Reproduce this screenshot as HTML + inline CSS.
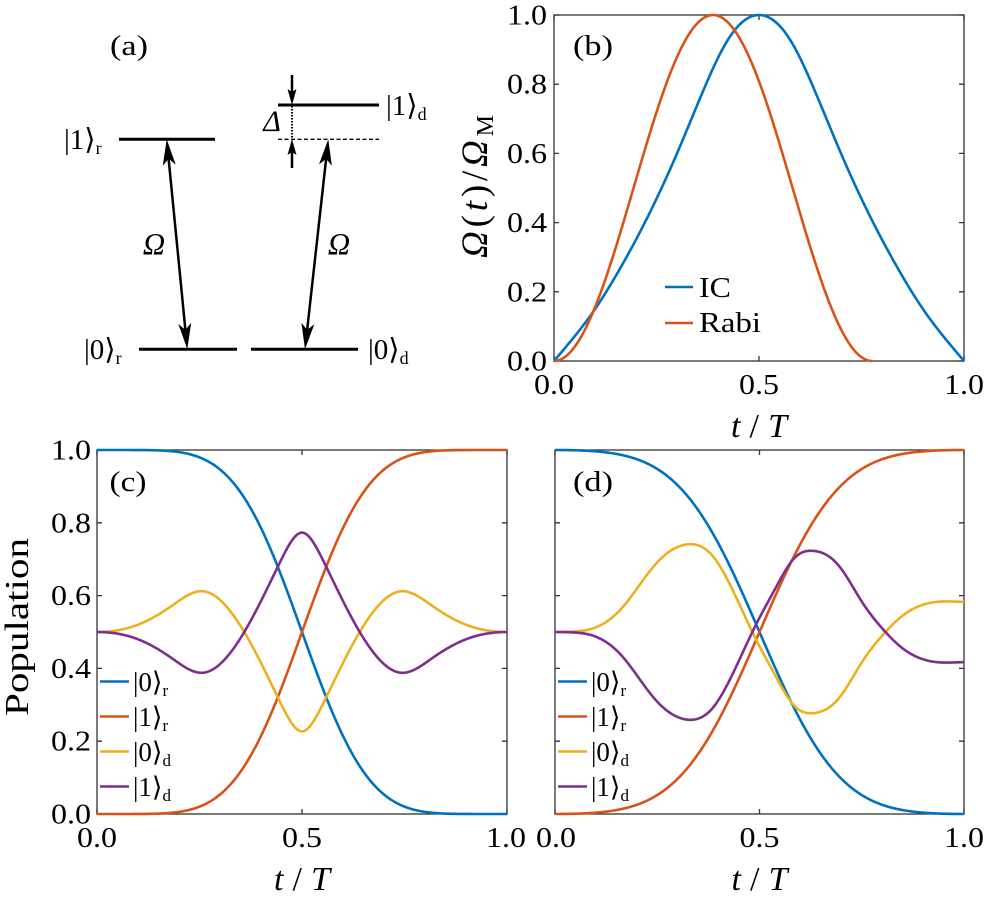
<!DOCTYPE html>
<html><head><meta charset="utf-8">
<style>
html,body{margin:0;padding:0;background:#fff;}
svg{display:block;}
text{font-family:"Liberation Serif","DejaVu Serif","DejaVu Sans",serif;fill:#000;}
.tk{font-size:29px;}
.it{font-style:italic;}
</style></head>
<body>
<svg id="fig" width="985" height="902" viewBox="0 0 985 902" xmlns="http://www.w3.org/2000/svg">
<rect x="0" y="0" width="985" height="902" fill="#fff"/>

<!-- ===== Panel (a) ===== -->
<text x="129" y="55" font-size="29" text-anchor="middle" textLength="38" lengthAdjust="spacingAndGlyphs">(a)</text>
<g stroke="#000" stroke-width="3" fill="none">
  <line x1="119" y1="139.3" x2="215" y2="139.3"/>
  <line x1="139" y1="349.3" x2="237" y2="349.3"/>
  <line x1="251" y1="349.3" x2="358" y2="349.3"/>
  <line x1="278" y1="105" x2="379" y2="105"/>
</g>
<line x1="278" y1="139.3" x2="379" y2="139.3" stroke="#000" stroke-width="1.3" stroke-dasharray="4 2.5"/>
<line x1="292" y1="106" x2="292" y2="138" stroke="#000" stroke-width="2" stroke-dasharray="1.5 1.5"/>
<g stroke="#000" stroke-width="2.5">
  <line x1="168.6" y1="158.7" x2="185.4" y2="329.9"/>
  <line x1="326.15" y1="158.7" x2="307.15" y2="329.9"/>
  <line x1="292" y1="75" x2="292" y2="95"/>
  <line x1="292" y1="168" x2="292" y2="149"/>
</g>
<g fill="#000">
  <polygon points="166.7,139.3 175.7,164.6 168.6,158.7 162.8,165.8"/>
  <polygon points="187.3,349.3 191.2,322.8 185.4,329.9 178.3,324.0"/>
  <polygon points="328.3,139.3 331.9,165.9 326.15,158.7 319.0,164.4"/>
  <polygon points="305,349.3 314.3,324.2 307.15,329.9 301.4,322.7"/>
  <polygon points="292,105 296.5,89 292,92 287.5,89"/>
  <polygon points="292,139 296.5,155 292,152 287.5,155"/>
</g>
<text x="64" y="149" font-size="29">|1⟩<tspan font-size="18" dy="5">r</tspan></text>
<text x="84" y="359" font-size="29">|0⟩<tspan font-size="18" dy="5">r</tspan></text>
<text x="368" y="359" font-size="29">|0⟩<tspan font-size="18" dy="5">d</tspan></text>
<text x="386" y="115" font-size="29">|1⟩<tspan font-size="18" dy="5">d</tspan></text>
<text x="154" y="254" font-size="31" class="it" text-anchor="middle">Ω</text>
<text x="339" y="254" font-size="31" class="it" text-anchor="middle">Ω</text>
<text x="272" y="131" font-size="30" class="it" text-anchor="middle">Δ</text>

<!-- ===== Panel (b) ===== -->
<rect x="554" y="15" width="410" height="346" fill="none" stroke="#333" stroke-width="1.3"/>
<path d="M554,361h5M964,361h-5M554,291.8h5M964,291.8h-5M554,222.6h5M964,222.6h-5M554,153.4h5M964,153.4h-5M554,84.2h5M964,84.2h-5M554,15h5M964,15h-5M554,361v-5M554,15v5M759,361v-5M759,15v5M964,361v-5M964,15v5" stroke="#333" stroke-width="1.3" fill="none"/>
<g class="tk" text-anchor="end">
<text x="547" y="370.5" textLength="40" lengthAdjust="spacingAndGlyphs">0.0</text>
<text x="547" y="301.3" textLength="40" lengthAdjust="spacingAndGlyphs">0.2</text>
<text x="547" y="232.1" textLength="40" lengthAdjust="spacingAndGlyphs">0.4</text>
<text x="547" y="162.9" textLength="40" lengthAdjust="spacingAndGlyphs">0.6</text>
<text x="547" y="93.7" textLength="40" lengthAdjust="spacingAndGlyphs">0.8</text>
<text x="547" y="24.5" textLength="40" lengthAdjust="spacingAndGlyphs">1.0</text>
</g>
<g class="tk" text-anchor="middle">
<text x="554" y="394" textLength="40" lengthAdjust="spacingAndGlyphs">0.0</text>
<text x="759" y="394" textLength="40" lengthAdjust="spacingAndGlyphs">0.5</text>
<text x="964" y="394" textLength="40" lengthAdjust="spacingAndGlyphs">1.0</text>
</g>
<text x="759" y="437" font-size="34" text-anchor="middle" textLength="56" lengthAdjust="spacing"><tspan class="it">t</tspan>/<tspan class="it">T</tspan></text>
<text transform="translate(487,186.5) rotate(-90)" font-size="37" text-anchor="middle" textLength="143" lengthAdjust="spacing"><tspan class="it">Ω</tspan>(<tspan class="it">t</tspan>)/<tspan class="it">Ω</tspan><tspan font-size="24" dy="6">M</tspan></text>
<text x="593" y="55" font-size="29" text-anchor="middle" textLength="40" lengthAdjust="spacingAndGlyphs">(b)</text>
<line x1="665" y1="287" x2="693" y2="287" stroke="#0072BD" stroke-width="2.6"/>
<line x1="665" y1="323" x2="693" y2="323" stroke="#D95319" stroke-width="2.6"/>
<text x="699" y="297" font-size="28" textLength="32" lengthAdjust="spacingAndGlyphs">IC</text>
<text x="699" y="332" font-size="28" textLength="62" lengthAdjust="spacingAndGlyphs">Rabi</text>

<!-- ===== Panel (c) ===== -->
<rect x="97" y="450" width="410" height="364" fill="none" stroke="#333" stroke-width="1.3"/>
<path d="M97,814h5M507,814h-5M97,741.2h5M507,741.2h-5M97,668.4h5M507,668.4h-5M97,595.6h5M507,595.6h-5M97,522.8h5M507,522.8h-5M97,450h5M507,450h-5M97,814v-5M97,450v5M302,814v-5M302,450v5M507,814v-5M507,450v5" stroke="#333" stroke-width="1.3" fill="none"/>
<g class="tk" text-anchor="end">
<text x="91" y="823.5" textLength="40" lengthAdjust="spacingAndGlyphs">0.0</text>
<text x="91" y="750.7" textLength="40" lengthAdjust="spacingAndGlyphs">0.2</text>
<text x="91" y="677.9" textLength="40" lengthAdjust="spacingAndGlyphs">0.4</text>
<text x="91" y="605.1" textLength="40" lengthAdjust="spacingAndGlyphs">0.6</text>
<text x="91" y="532.3" textLength="40" lengthAdjust="spacingAndGlyphs">0.8</text>
<text x="91" y="459.5" textLength="40" lengthAdjust="spacingAndGlyphs">1.0</text>
</g>
<g class="tk" text-anchor="middle">
<text x="97" y="847" textLength="40" lengthAdjust="spacingAndGlyphs">0.0</text>
<text x="302" y="847" textLength="40" lengthAdjust="spacingAndGlyphs">0.5</text>
<text x="506" y="847" textLength="40" lengthAdjust="spacingAndGlyphs">1.0</text>
</g>
<text x="302" y="890" font-size="34" text-anchor="middle" textLength="56" lengthAdjust="spacing"><tspan class="it">t</tspan>/<tspan class="it">T</tspan></text>
<text transform="translate(28,627) rotate(-90)" font-size="34" text-anchor="middle" textLength="178" lengthAdjust="spacingAndGlyphs">Population</text>
<text x="128" y="491" font-size="29" text-anchor="middle" textLength="37" lengthAdjust="spacingAndGlyphs">(c)</text>

<!-- ===== Panel (d) ===== -->
<rect x="555" y="450" width="409" height="364" fill="none" stroke="#333" stroke-width="1.3"/>
<path d="M555,814h5M964,814h-5M555,741.2h5M964,741.2h-5M555,668.4h5M964,668.4h-5M555,595.6h5M964,595.6h-5M555,522.8h5M964,522.8h-5M555,450h5M964,450h-5M555,814v-5M555,450v5M759.5,814v-5M759.5,450v5M964,814v-5M964,450v5" stroke="#333" stroke-width="1.3" fill="none"/>
<g class="tk" text-anchor="middle">
<text x="556" y="847" textLength="40" lengthAdjust="spacingAndGlyphs">0.0</text>
<text x="759.5" y="847" textLength="40" lengthAdjust="spacingAndGlyphs">0.5</text>
<text x="964" y="847" textLength="40" lengthAdjust="spacingAndGlyphs">1.0</text>
</g>
<text x="759.5" y="890" font-size="34" text-anchor="middle" textLength="56" lengthAdjust="spacing"><tspan class="it">t</tspan>/<tspan class="it">T</tspan></text>
<text x="593" y="491" font-size="29" text-anchor="middle" textLength="40" lengthAdjust="spacingAndGlyphs">(d)</text>

<!-- curves -->
<g id="curves" fill="none" stroke-width="2.6" stroke-linejoin="round" stroke-linecap="butt"></g>

<!-- legends -->
<g stroke-width="2.6">
<line x1="100" y1="681.5" x2="129" y2="681.5" stroke="#0072BD"/>
<line x1="100" y1="716.5" x2="129" y2="716.5" stroke="#D95319"/>
<line x1="100" y1="751.5" x2="129" y2="751.5" stroke="#EDB120"/>
<line x1="100" y1="786.5" x2="129" y2="786.5" stroke="#7E2F8E"/>
<line x1="558" y1="681.5" x2="587" y2="681.5" stroke="#0072BD"/>
<line x1="558" y1="716.5" x2="587" y2="716.5" stroke="#D95319"/>
<line x1="558" y1="751.5" x2="587" y2="751.5" stroke="#EDB120"/>
<line x1="558" y1="786.5" x2="587" y2="786.5" stroke="#7E2F8E"/>
</g>
<g font-size="27">
<text x="133" y="691">|0⟩<tspan font-size="17" dy="5">r</tspan></text>
<text x="133" y="726">|1⟩<tspan font-size="17" dy="5">r</tspan></text>
<text x="133" y="761">|0⟩<tspan font-size="17" dy="5">d</tspan></text>
<text x="133" y="796">|1⟩<tspan font-size="17" dy="5">d</tspan></text>
<text x="591" y="691">|0⟩<tspan font-size="17" dy="5">r</tspan></text>
<text x="591" y="726">|1⟩<tspan font-size="17" dy="5">r</tspan></text>
<text x="591" y="761">|0⟩<tspan font-size="17" dy="5">d</tspan></text>
<text x="591" y="796">|1⟩<tspan font-size="17" dy="5">d</tspan></text>
</g>
</svg>
<script>
(function(){
// clamped cubic spline (C2)
function spline(xs, ys, s0, sN){
  var n=xs.length,h=[],i;
  for(i=0;i<n-1;i++) h[i]=xs[i+1]-xs[i];
  var a=new Array(n),b=new Array(n),c=new Array(n),d=new Array(n);
  a[0]=0;b[0]=2*h[0];c[0]=h[0];d[0]=6*((ys[1]-ys[0])/h[0]-s0);
  for(i=1;i<n-1;i++){
    a[i]=h[i-1];b[i]=2*(h[i-1]+h[i]);c[i]=h[i];
    d[i]=6*((ys[i+1]-ys[i])/h[i]-(ys[i]-ys[i-1])/h[i-1]);
  }
  a[n-1]=h[n-2];b[n-1]=2*h[n-2];c[n-1]=0;d[n-1]=6*(sN-(ys[n-1]-ys[n-2])/h[n-2]);
  var cp=new Array(n),dp=new Array(n),M=new Array(n);
  cp[0]=c[0]/b[0];dp[0]=d[0]/b[0];
  for(i=1;i<n;i++){
    var den=b[i]-a[i]*cp[i-1];
    cp[i]=c[i]/den;dp[i]=(d[i]-a[i]*dp[i-1])/den;
  }
  M[n-1]=dp[n-1];
  for(i=n-2;i>=0;i--) M[i]=dp[i]-cp[i]*M[i+1];
  return function(x){
    var k=0; while(k<n-2 && x>xs[k+1]) k++;
    var hh=h[k],A=xs[k+1]-x,B=x-xs[k];
    return M[k]*A*A*A/(6*hh)+M[k+1]*B*B*B/(6*hh)+(ys[k]/hh-M[k]*hh/6)*A+(ys[k+1]/hh-M[k+1]*hh/6)*B;
  };
}
var NS="http://www.w3.org/2000/svg", g=document.getElementById("curves");
function draw(fn,t0,t1,L,W,B,H,color){
  var N=500,p="",i;
  for(i=0;i<=N;i++){
    var t=t0+(t1-t0)*i/N, v=fn(t);
    var x=L+W*t, y=B-H*v;
    p+=(i?"L":"M")+x.toFixed(2)+","+y.toFixed(2);
  }
  var e=document.createElementNS(NS,"path");
  e.setAttribute("d",p); e.setAttribute("stroke",color);
  g.appendChild(e);
}
var BL="#0072BD",OR="#D95319",YE="#EDB120",PU="#7E2F8E";
// panel b
var icf=spline([0,0.075,0.14,0.2,0.27,0.34,0.4,0.5],[1,0.93,0.77,0.6,0.42,0.265,0.15,0],0,-1.4);
function ic(t){return Math.min(1,Math.max(0,icf(Math.abs(t-0.5))));}
function rabi(t){var s=Math.sin(Math.PI*t/0.776);return t<0.776?s*s:0;}
draw(ic,0,1,554,410,361,346,BL);
draw(rabi,0,0.776,554,410,361,346,OR);
// panel c
function fC(t){return t-Math.sin(2*Math.PI*t)/(2*Math.PI);}
function bc(t){var c=Math.cos(Math.PI/2*fC(t));return c*c;}
var ycf=spline([0,0.1,0.18,0.257,0.33,0.4,0.45,0.5],[0.5,0.52,0.57,0.612,0.55,0.415,0.30,0.227],0,0);
function yc(t){return ycf(t<=0.5?t:1-t);}
draw(bc,0,1,97,410,814,364,BL);
draw(function(t){return 1-bc(t);},0,1,97,410,814,364,OR);
draw(yc,0,1,97,410,814,364,YE);
draw(function(t){return 1-yc(t);},0,1,97,410,814,364,PU);
// panel d
function fD(t){return t-0.65*Math.sin(2*Math.PI*t)/(2*Math.PI);}
function bd(t){var c=Math.cos(Math.PI/2*fD(t));return c*c;}
var ydf=spline([0,0.04,0.08,0.163,0.244,0.326,0.383,0.44,0.489,0.538,0.587,0.63,0.694,0.751,0.80,0.85,0.90,0.95,1.0],
              [0.5,0.501,0.506,0.565,0.684,0.741,0.712,0.602,0.485,0.382,0.295,0.277,0.318,0.418,0.49,0.545,0.575,0.584,0.583],0,0);
draw(bd,0,1,555,409,814,364,BL);
draw(function(t){return 1-bd(t);},0,1,555,409,814,364,OR);
draw(ydf,0,1,555,409,814,364,YE);
draw(function(t){return 1-ydf(t);},0,1,555,409,814,364,PU);
})();
</script>
</body></html>
